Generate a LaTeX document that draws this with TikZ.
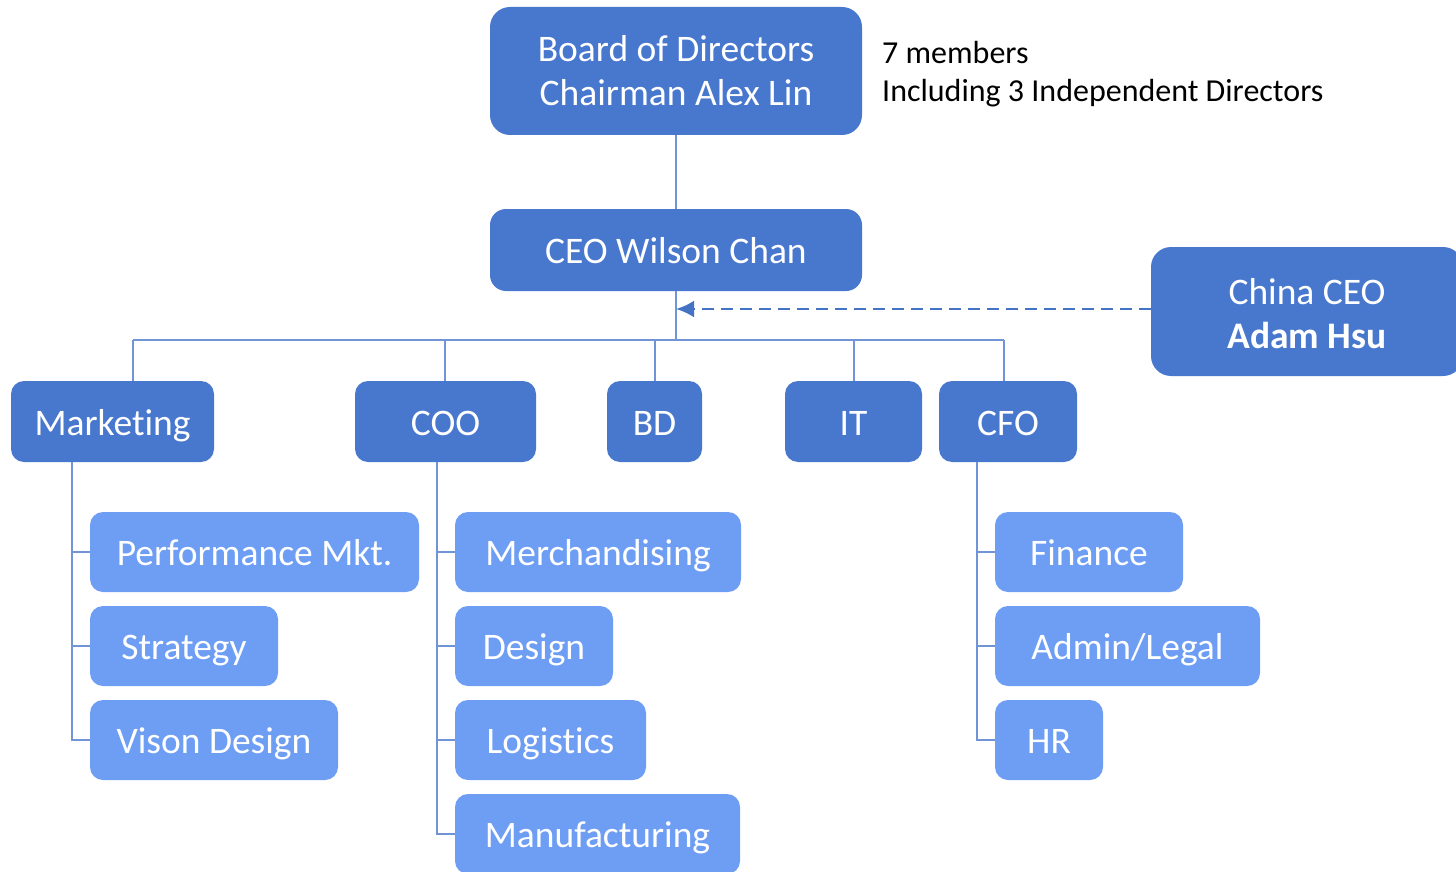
\documentclass[tikz,border=0pt]{standalone}
\usepackage{fontspec}
\setmainfont{Carlito}[Ligatures=NoCommon]
\usetikzlibrary{arrows.meta}
\definecolor{boxdark}{HTML}{4877CE}
\definecolor{boxlight}{HTML}{6D9EF4}
\definecolor{linkblue}{HTML}{7194D6}
\definecolor{arrowblue}{HTML}{4472C4}
\tikzset{
  x=1pt, y=-1pt,
  orgbox/.style={inner sep=0pt, align=center, text=white,
    font=\fontsize{37.5}{44}\selectfont},
  oneline/.style={text height=27pt, text depth=0pt},
  headbox/.style={orgbox, fill=boxdark, rounded corners=16pt},
  unitbox/.style={orgbox, oneline, fill=boxdark, rounded corners=13pt,
    minimum height=81pt},
  subbox/.style={orgbox, oneline, fill=boxlight, rounded corners=13pt,
    minimum height=80pt},
  link/.style={draw=linkblue, line width=1.6pt},
  dotted link/.style={draw=arrowblue, line width=2.6pt,
    dash pattern=on 12pt off 7pt, -{Latex[length=18pt,width=17pt]}}
}
\begin{document}
\begin{tikzpicture}
\useasboundingbox (0,0) rectangle (1456,872);

% top of the chart
\node[headbox, rounded corners=20pt, minimum width=372pt, minimum height=128pt]
  (board) at (676,71) {Board of Directors\\Chairman Alex Lin};
\node[anchor=north west, align=left, inner sep=0pt,
  font=\fontsize{32}{38.5}\selectfont] (note) at (882,41)
  {7 members\\Including 3 Independent Directors};
\node[headbox, oneline, minimum width=372pt, minimum height=82pt]
  (ceo) at (676,250) {CEO Wilson Chan};
\node[headbox, rounded corners=20pt, minimum width=312pt, minimum height=129pt]
  (china) at (1307,311.5) {\strut China CEO\\\textbf{Adam Hsu}};

% department heads
\node[unitbox, minimum width=203pt] (mkt) at (112.5,421.5) {Marketing};
\node[unitbox, minimum width=181pt] (coo) at (445.5,421.5) {COO};
\node[unitbox, minimum width=95pt]  (bd)  at (654.5,421.5) {BD};
\node[unitbox, minimum width=137pt] (it)  at (853.5,421.5) {IT};
\node[unitbox, minimum width=138pt] (cfo) at (1008,421.5) {CFO};

% marketing teams
\node[subbox, minimum width=329pt] (perf)  at (254.5,552) {Performance Mkt.};
\node[subbox, minimum width=188pt] (strat) at (184,646)   {Strategy};
\node[subbox, minimum width=248pt] (vison) at (214,740)   {Vison Design};

% operations teams
\node[subbox, minimum width=286pt] (merch) at (598,552)   {Merchandising};
\node[subbox, minimum width=158pt] (desgn) at (534,646)   {Design};
\node[subbox, minimum width=191pt] (logis) at (550.5,740) {Logistics};
\node[subbox, minimum width=285pt] (manuf) at (597.5,834) {Manufacturing};

% finance teams
\node[subbox, minimum width=188pt] (fin)   at (1089,552)   {Finance};
\node[subbox, minimum width=265pt] (admin) at (1127.5,646) {Admin/Legal};
\node[subbox, minimum width=108pt] (hr)    at (1049,740)   {HR};

% reporting lines
\coordinate (hub)  at (676,340);
\coordinate (busM) at (133,340);
\coordinate (busC) at (445,340);
\coordinate (busB) at (655,340);
\coordinate (busI) at (854,340);
\coordinate (busF) at (1004,340);
\draw[link] (board) -- (ceo);
\draw[link] (ceo) -- (hub);
\draw[link] (busM) -- (busF);
\draw[link] (busM) -- (busM |- mkt.north);
\draw[link] (busC) -- (busC |- coo.north);
\draw[link] (busB) -- (busB |- bd.north);
\draw[link] (busI) -- (busI |- it.north);
\draw[link] (busF) -- (busF |- cfo.north);

\coordinate (trM) at (72,462);
\coordinate (trC) at (437,462);
\coordinate (trF) at (977,462);
\draw[link] (trM) |- (vison.west);
\draw[link] (trM |- perf.west) -- (perf.west);
\draw[link] (trM |- strat.west) -- (strat.west);
\draw[link] (trC) |- (manuf.west);
\draw[link] (trC |- merch.west) -- (merch.west);
\draw[link] (trC |- desgn.west) -- (desgn.west);
\draw[link] (trC |- logis.west) -- (logis.west);
\draw[link] (trF) |- (hr.west);
\draw[link] (trF |- fin.west) -- (fin.west);
\draw[link] (trF |- admin.west) -- (admin.west);

\coordinate (dotted end) at (676,309);
\draw[dotted link] (china.west |- dotted end) -- (dotted end);
\end{tikzpicture}
\end{document}
